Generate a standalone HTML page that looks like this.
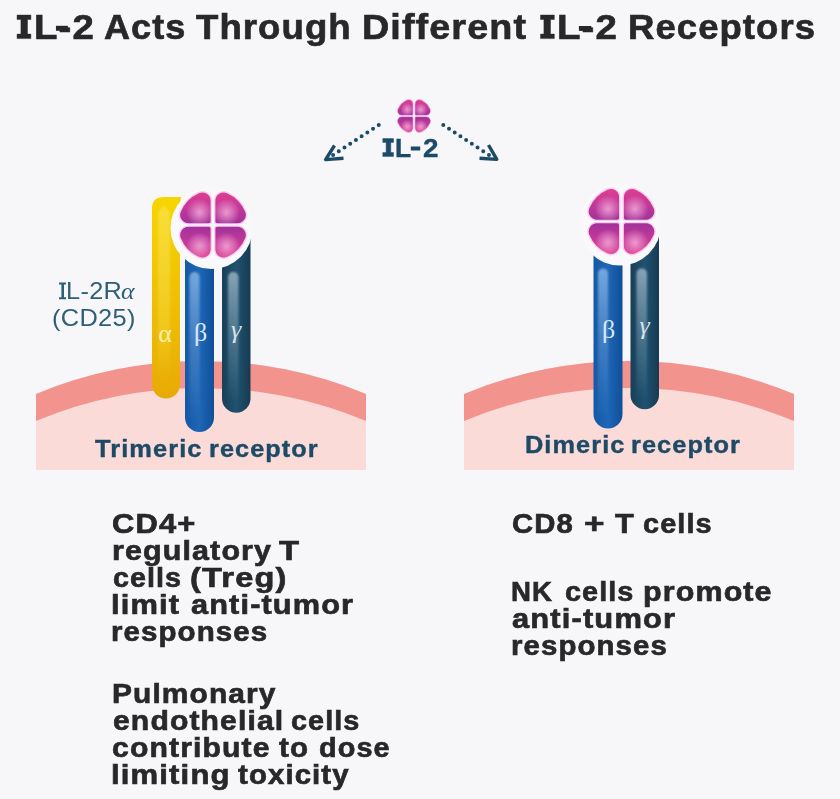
<!DOCTYPE html>
<html><head><meta charset="utf-8"><style>
html,body{margin:0;padding:0;}
body{width:840px;height:799px;background:#f7f7fa;position:relative;overflow:hidden;font-family:"Liberation Sans",sans-serif;}
.t{position:absolute;white-space:nowrap;line-height:1;transform-origin:0 0;}
</style></head><body>
<svg width="840" height="799" viewBox="0 0 840 799" style="position:absolute;left:0;top:0">
<defs>
 <linearGradient id="lg" x1="0" y1="0" x2="0" y2="1"><stop offset="0" stop-color="#df3f90"/><stop offset="0.5" stop-color="#c33898"/><stop offset="1" stop-color="#a0329a"/></linearGradient>
 <radialGradient id="rgT" cx="0.63" cy="0.64" r="0.42"><stop offset="0" stop-color="#f3a8d8" stop-opacity="0.85"/><stop offset="1" stop-color="#f6b4de" stop-opacity="0"/></radialGradient>
 <radialGradient id="rgB" cx="0.63" cy="0.38" r="0.42"><stop offset="0" stop-color="#f3a8d8" stop-opacity="0.85"/><stop offset="1" stop-color="#f6b4de" stop-opacity="0"/></radialGradient>
 <linearGradient id="ga" x1="0" y1="0" x2="0" y2="1"><stop offset="0" stop-color="#f6d600"/><stop offset="1" stop-color="#e8aa06"/></linearGradient>
 <linearGradient id="gb" x1="0" y1="0" x2="1" y2="0"><stop offset="0" stop-color="#1458a6"/><stop offset="0.5" stop-color="#1e66b6"/><stop offset="1" stop-color="#0f4f98"/></linearGradient>
 <linearGradient id="gg" x1="0" y1="0" x2="1" y2="0"><stop offset="0" stop-color="#183f57"/><stop offset="0.5" stop-color="#205270"/><stop offset="1" stop-color="#163b52"/></linearGradient>
 <filter id="blur2" x="-50%" y="-10%" width="200%" height="120%"><feGaussianBlur stdDeviation="1.0"/></filter>
 <linearGradient id="ha" x1="0" y1="0" x2="0" y2="1"><stop offset="0" stop-color="#fbe45a" stop-opacity="0.6"/><stop offset="0.7" stop-color="#fbe45a" stop-opacity="0.3"/><stop offset="1" stop-color="#fbe45a" stop-opacity="0"/></linearGradient>
 <linearGradient id="hb" x1="0" y1="0" x2="0" y2="1"><stop offset="0" stop-color="#86b4e4" stop-opacity="0.85"/><stop offset="0.6" stop-color="#5d93d0" stop-opacity="0.45"/><stop offset="1" stop-color="#5d93d0" stop-opacity="0"/></linearGradient>
 <linearGradient id="hg" x1="0" y1="0" x2="0" y2="1"><stop offset="0" stop-color="#9ab3c2" stop-opacity="0.85"/><stop offset="0.6" stop-color="#6f93a8" stop-opacity="0.45"/><stop offset="1" stop-color="#6f93a8" stop-opacity="0"/></linearGradient>
</defs>
<path d="M36,394 A429,429 0 0 1 366,394 L366,470 L36,470 Z" fill="#fadbd8"/><path d="M36,394 A429,429 0 0 1 366,394 L366,421 A429,429 0 0 0 36,421 Z" fill="#f3938d"/>
<path d="M464,394 A429,429 0 0 1 794,394 L794,470 L464,470 Z" fill="#fadbd8"/><path d="M464,394 A429,429 0 0 1 794,394 L794,421 A429,429 0 0 0 464,421 Z" fill="#f3938d"/>
<g>
<path d="M152,208 Q152,197 164,197 L181,197 L180,205 L180,384.5 A14,14 0 0 1 152,384.5 Z" fill="url(#ga)"/>
<path d="M158,212 L164,205 L170,212 L170,380 L158,380 Z" fill="url(#ha)" filter="url(#blur2)"/>
<path d="M185,236 L214,236 L214,417.5 A14.5,14.5 0 0 1 185,417.5 Z" fill="url(#gb)"/>
<path d="M222,236 L250.5,236 L250.5,398.5 A14.25,14.25 0 0 1 222,398.5 Z" fill="url(#gg)"/>
<rect x="189.5" y="272" width="10" height="150" rx="5" fill="url(#hb)" filter="url(#blur2)"/>
<rect x="228" y="272" width="10.5" height="130" rx="5" fill="url(#hg)" filter="url(#blur2)"/>
</g>
<circle cx="211.5" cy="228" r="41" fill="#f9f9fc"/>
<g transform="translate(213,225) scale(1,1)"><path d="M-1.70,-24.24 L-1.70,-3.60 A2.5,2.5 0 0 1 -4.20,-1.10 L-24.50,-1.10 A9.0,9.0 0 0 1 -32.82,-13.53 A35.5,35.5 0 0 1 -14.33,-32.48 A9.0,9.0 0 0 1 -1.70,-24.24 Z" fill="url(#lg)" stroke="#f9cdee" stroke-width="1.4"/><path d="M-1.70,-24.24 L-1.70,-3.60 A2.5,2.5 0 0 1 -4.20,-1.10 L-24.50,-1.10 A9.0,9.0 0 0 1 -32.82,-13.53 A35.5,35.5 0 0 1 -14.33,-32.48 A9.0,9.0 0 0 1 -1.70,-24.24 Z" fill="url(#rgT)"/></g>
<g transform="translate(213,225) scale(-1,1)"><path d="M-1.70,-24.24 L-1.70,-3.60 A2.5,2.5 0 0 1 -4.20,-1.10 L-24.50,-1.10 A9.0,9.0 0 0 1 -32.82,-13.53 A35.5,35.5 0 0 1 -14.33,-32.48 A9.0,9.0 0 0 1 -1.70,-24.24 Z" fill="url(#lg)" stroke="#f9cdee" stroke-width="1.4"/><path d="M-1.70,-24.24 L-1.70,-3.60 A2.5,2.5 0 0 1 -4.20,-1.10 L-24.50,-1.10 A9.0,9.0 0 0 1 -32.82,-13.53 A35.5,35.5 0 0 1 -14.33,-32.48 A9.0,9.0 0 0 1 -1.70,-24.24 Z" fill="url(#rgT)"/></g>
<g transform="translate(213,225) scale(1,-1)"><path d="M-1.70,-24.24 L-1.70,-3.60 A2.5,2.5 0 0 1 -4.20,-1.10 L-24.50,-1.10 A9.0,9.0 0 0 1 -32.82,-13.53 A35.5,35.5 0 0 1 -14.33,-32.48 A9.0,9.0 0 0 1 -1.70,-24.24 Z" fill="url(#lg)" stroke="#f9cdee" stroke-width="1.4"/><path d="M-1.70,-24.24 L-1.70,-3.60 A2.5,2.5 0 0 1 -4.20,-1.10 L-24.50,-1.10 A9.0,9.0 0 0 1 -32.82,-13.53 A35.5,35.5 0 0 1 -14.33,-32.48 A9.0,9.0 0 0 1 -1.70,-24.24 Z" fill="url(#rgB)"/></g>
<g transform="translate(213,225) scale(-1,-1)"><path d="M-1.70,-24.24 L-1.70,-3.60 A2.5,2.5 0 0 1 -4.20,-1.10 L-24.50,-1.10 A9.0,9.0 0 0 1 -32.82,-13.53 A35.5,35.5 0 0 1 -14.33,-32.48 A9.0,9.0 0 0 1 -1.70,-24.24 Z" fill="url(#lg)" stroke="#f9cdee" stroke-width="1.4"/><path d="M-1.70,-24.24 L-1.70,-3.60 A2.5,2.5 0 0 1 -4.20,-1.10 L-24.50,-1.10 A9.0,9.0 0 0 1 -32.82,-13.53 A35.5,35.5 0 0 1 -14.33,-32.48 A9.0,9.0 0 0 1 -1.70,-24.24 Z" fill="url(#rgB)"/></g>
<g>
<path d="M593.5,232.5 L622.5,232.5 L622.5,414.0 A14.5,14.5 0 0 1 593.5,414.0 Z" fill="url(#gb)"/>
<path d="M630.5,232.5 L659.0,232.5 L659.0,395.0 A14.25,14.25 0 0 1 630.5,395.0 Z" fill="url(#gg)"/>
<rect x="598.0" y="268.5" width="10" height="150" rx="5" fill="url(#hb)" filter="url(#blur2)"/>
<rect x="636.5" y="268.5" width="10.5" height="130" rx="5" fill="url(#hg)" filter="url(#blur2)"/>
</g>
<circle cx="620.0" cy="224.5" r="41" fill="#f9f9fc"/>
<g transform="translate(621.5,221.5) scale(1,1)"><path d="M-1.70,-24.24 L-1.70,-3.60 A2.5,2.5 0 0 1 -4.20,-1.10 L-24.50,-1.10 A9.0,9.0 0 0 1 -32.82,-13.53 A35.5,35.5 0 0 1 -14.33,-32.48 A9.0,9.0 0 0 1 -1.70,-24.24 Z" fill="url(#lg)" stroke="#f9cdee" stroke-width="1.4"/><path d="M-1.70,-24.24 L-1.70,-3.60 A2.5,2.5 0 0 1 -4.20,-1.10 L-24.50,-1.10 A9.0,9.0 0 0 1 -32.82,-13.53 A35.5,35.5 0 0 1 -14.33,-32.48 A9.0,9.0 0 0 1 -1.70,-24.24 Z" fill="url(#rgT)"/></g>
<g transform="translate(621.5,221.5) scale(-1,1)"><path d="M-1.70,-24.24 L-1.70,-3.60 A2.5,2.5 0 0 1 -4.20,-1.10 L-24.50,-1.10 A9.0,9.0 0 0 1 -32.82,-13.53 A35.5,35.5 0 0 1 -14.33,-32.48 A9.0,9.0 0 0 1 -1.70,-24.24 Z" fill="url(#lg)" stroke="#f9cdee" stroke-width="1.4"/><path d="M-1.70,-24.24 L-1.70,-3.60 A2.5,2.5 0 0 1 -4.20,-1.10 L-24.50,-1.10 A9.0,9.0 0 0 1 -32.82,-13.53 A35.5,35.5 0 0 1 -14.33,-32.48 A9.0,9.0 0 0 1 -1.70,-24.24 Z" fill="url(#rgT)"/></g>
<g transform="translate(621.5,221.5) scale(1,-1)"><path d="M-1.70,-24.24 L-1.70,-3.60 A2.5,2.5 0 0 1 -4.20,-1.10 L-24.50,-1.10 A9.0,9.0 0 0 1 -32.82,-13.53 A35.5,35.5 0 0 1 -14.33,-32.48 A9.0,9.0 0 0 1 -1.70,-24.24 Z" fill="url(#lg)" stroke="#f9cdee" stroke-width="1.4"/><path d="M-1.70,-24.24 L-1.70,-3.60 A2.5,2.5 0 0 1 -4.20,-1.10 L-24.50,-1.10 A9.0,9.0 0 0 1 -32.82,-13.53 A35.5,35.5 0 0 1 -14.33,-32.48 A9.0,9.0 0 0 1 -1.70,-24.24 Z" fill="url(#rgB)"/></g>
<g transform="translate(621.5,221.5) scale(-1,-1)"><path d="M-1.70,-24.24 L-1.70,-3.60 A2.5,2.5 0 0 1 -4.20,-1.10 L-24.50,-1.10 A9.0,9.0 0 0 1 -32.82,-13.53 A35.5,35.5 0 0 1 -14.33,-32.48 A9.0,9.0 0 0 1 -1.70,-24.24 Z" fill="url(#lg)" stroke="#f9cdee" stroke-width="1.4"/><path d="M-1.70,-24.24 L-1.70,-3.60 A2.5,2.5 0 0 1 -4.20,-1.10 L-24.50,-1.10 A9.0,9.0 0 0 1 -32.82,-13.53 A35.5,35.5 0 0 1 -14.33,-32.48 A9.0,9.0 0 0 1 -1.70,-24.24 Z" fill="url(#rgB)"/></g>
<g transform="translate(414,116) scale(0.5) translate(-213,-225)"><g transform="translate(213,225) scale(1,1)"><path d="M-1.70,-24.24 L-1.70,-3.60 A2.5,2.5 0 0 1 -4.20,-1.10 L-24.50,-1.10 A9.0,9.0 0 0 1 -32.82,-13.53 A35.5,35.5 0 0 1 -14.33,-32.48 A9.0,9.0 0 0 1 -1.70,-24.24 Z" fill="url(#lg)" stroke="#f9cdee" stroke-width="1.4"/><path d="M-1.70,-24.24 L-1.70,-3.60 A2.5,2.5 0 0 1 -4.20,-1.10 L-24.50,-1.10 A9.0,9.0 0 0 1 -32.82,-13.53 A35.5,35.5 0 0 1 -14.33,-32.48 A9.0,9.0 0 0 1 -1.70,-24.24 Z" fill="url(#rgT)"/></g>
<g transform="translate(213,225) scale(-1,1)"><path d="M-1.70,-24.24 L-1.70,-3.60 A2.5,2.5 0 0 1 -4.20,-1.10 L-24.50,-1.10 A9.0,9.0 0 0 1 -32.82,-13.53 A35.5,35.5 0 0 1 -14.33,-32.48 A9.0,9.0 0 0 1 -1.70,-24.24 Z" fill="url(#lg)" stroke="#f9cdee" stroke-width="1.4"/><path d="M-1.70,-24.24 L-1.70,-3.60 A2.5,2.5 0 0 1 -4.20,-1.10 L-24.50,-1.10 A9.0,9.0 0 0 1 -32.82,-13.53 A35.5,35.5 0 0 1 -14.33,-32.48 A9.0,9.0 0 0 1 -1.70,-24.24 Z" fill="url(#rgT)"/></g>
<g transform="translate(213,225) scale(1,-1)"><path d="M-1.70,-24.24 L-1.70,-3.60 A2.5,2.5 0 0 1 -4.20,-1.10 L-24.50,-1.10 A9.0,9.0 0 0 1 -32.82,-13.53 A35.5,35.5 0 0 1 -14.33,-32.48 A9.0,9.0 0 0 1 -1.70,-24.24 Z" fill="url(#lg)" stroke="#f9cdee" stroke-width="1.4"/><path d="M-1.70,-24.24 L-1.70,-3.60 A2.5,2.5 0 0 1 -4.20,-1.10 L-24.50,-1.10 A9.0,9.0 0 0 1 -32.82,-13.53 A35.5,35.5 0 0 1 -14.33,-32.48 A9.0,9.0 0 0 1 -1.70,-24.24 Z" fill="url(#rgB)"/></g>
<g transform="translate(213,225) scale(-1,-1)"><path d="M-1.70,-24.24 L-1.70,-3.60 A2.5,2.5 0 0 1 -4.20,-1.10 L-24.50,-1.10 A9.0,9.0 0 0 1 -32.82,-13.53 A35.5,35.5 0 0 1 -14.33,-32.48 A9.0,9.0 0 0 1 -1.70,-24.24 Z" fill="url(#lg)" stroke="#f9cdee" stroke-width="1.4"/><path d="M-1.70,-24.24 L-1.70,-3.60 A2.5,2.5 0 0 1 -4.20,-1.10 L-24.50,-1.10 A9.0,9.0 0 0 1 -32.82,-13.53 A35.5,35.5 0 0 1 -14.33,-32.48 A9.0,9.0 0 0 1 -1.70,-24.24 Z" fill="url(#rgB)"/></g></g>
<line x1="378.75" y1="125" x2="332.6" y2="155.3" stroke="#1d4b67" stroke-width="4" stroke-linecap="round" stroke-dasharray="0 6.83"/><polyline points="334.5,145.5 325.6,159.6 343.5,158.3" fill="none" stroke="#1d4b67" stroke-width="3.4" stroke-linejoin="round" stroke-linecap="butt"/>
<line x1="443.3" y1="125" x2="489.4" y2="155.3" stroke="#1d4b67" stroke-width="4" stroke-linecap="round" stroke-dasharray="0 6.83"/><polyline points="488.5,145 496.8,159.4 479.5,158.3" fill="none" stroke="#1d4b67" stroke-width="3.4" stroke-linejoin="round" stroke-linecap="butt"/>
<path d="M17.06,15.06 H30.9 V19.560000000000002 H27.5 V34.1 H30.9 V38.6 H17.06 V34.1 H20.9 V19.560000000000002 H17.06 Z" fill="#28282a" stroke="#28282a" stroke-width="0.45"/><path d="M540.5,15.06 H554.34 V19.560000000000002 H550.5 V34.1 H554.34 V38.6 H540.5 V34.1 H543.9 V19.560000000000002 H540.5 Z" fill="#28282a" stroke="#28282a" stroke-width="0.45"/><path d="M382.8,138.6 H393.5 V142.4 H390.8 V152.6 H393.5 V156.4 H382.8 V152.6 H386.1 V142.4 H382.8 Z" fill="#1d4b67" stroke="#1d4b67" stroke-width="0.45"/><path d="M59.0,282.5 H66.0 V284.5 H64.0 V297.2 H66.0 V299.2 H59.0 V297.2 H61.4 V284.5 H59.0 Z" fill="#2f5f78" stroke="#2f5f78" stroke-width="0"/>
<rect x="55.95" y="25.8" width="11.95" height="5.00" fill="#28282a"/><rect x="578.9" y="26.0" width="12.40" height="4.90" fill="#28282a"/><rect x="410.8" y="146.5" width="9.40" height="4.00" fill="#1d4b67"/>
<text x="165" y="342" font-family="Liberation Serif" font-size="26" fill="#fff1a8" text-anchor="middle">α</text>
<text x="200.5" y="341" font-family="Liberation Serif" font-size="26" fill="#dce8f6" text-anchor="middle">β</text>
<text x="236" y="337.5" font-style="italic" font-family="Liberation Serif" font-size="26" fill="#d6e2ea" text-anchor="middle">γ</text>
<text x="608.5" y="337.5" font-family="Liberation Serif" font-size="26" fill="#dce8f6" text-anchor="middle">β</text>
<text x="644.5" y="334" font-style="italic" font-family="Liberation Serif" font-size="26" fill="#d6e2ea" text-anchor="middle">γ</text>
</svg>
<div class="t" style="left:33.86px;top:9.75px;font-size:34.3px;font-weight:700;letter-spacing:1.0px;font-family:'Liberation Sans';color:#28282a;transform:scaleX(1.1180);-webkit-text-stroke:0.65px #28282a">L-2</div>
<div class="t" style="left:103.95px;top:9.75px;font-size:34.3px;font-weight:700;letter-spacing:1.0px;font-family:'Liberation Sans';color:#28282a;transform:scaleX(1.0500);-webkit-text-stroke:0.65px #28282a">Acts</div>
<div class="t" style="left:196.25px;top:9.75px;font-size:34.3px;font-weight:700;letter-spacing:1.0px;font-family:'Liberation Sans';color:#28282a;transform:scaleX(1.0664);-webkit-text-stroke:0.65px #28282a">Through</div>
<div class="t" style="left:362.30px;top:9.75px;font-size:34.3px;font-weight:700;letter-spacing:1.0px;font-family:'Liberation Sans';color:#28282a;transform:scaleX(1.1003);-webkit-text-stroke:0.65px #28282a">Different</div>
<div class="t" style="left:557.26px;top:9.75px;font-size:34.3px;font-weight:700;letter-spacing:1.0px;font-family:'Liberation Sans';color:#28282a;transform:scaleX(1.1200);-webkit-text-stroke:0.65px #28282a">L-2</div>
<div class="t" style="left:627.87px;top:9.75px;font-size:34.3px;font-weight:700;letter-spacing:1.0px;font-family:'Liberation Sans';color:#28282a;transform:scaleX(1.0640);-webkit-text-stroke:0.65px #28282a">Receptors</div>
<div class="t" style="left:66.47px;top:279.37px;font-size:23.8px;font-weight:400;letter-spacing:0.3px;font-family:'Liberation Sans';color:#2f5f78;transform:scaleX(1.0633);-webkit-text-stroke:0px #2f5f78">L-2R</div>
<div class="t" style="left:121.22px;top:279.40px;font-size:24px;font-weight:400;letter-spacing:0.3px;font-family:'Liberation Serif';color:#2f5f78;transform:scaleX(1.0750);-webkit-text-stroke:0px #2f5f78"><i>α</i></div>
<div class="t" style="left:52.17px;top:306.47px;font-size:23.8px;font-weight:400;letter-spacing:0.3px;font-family:'Liberation Sans';color:#2f5f78;transform:scaleX(1.0667);-webkit-text-stroke:0px #2f5f78">(CD25)</div>
<div class="t" style="left:395.07px;top:134.70px;font-size:26.0px;font-weight:700;letter-spacing:1.0px;font-family:'Liberation Sans';color:#1d4b67;transform:scaleX(1.0154);-webkit-text-stroke:0.4px #1d4b67">L</div>
<div class="t" style="left:422.83px;top:134.70px;font-size:26.0px;font-weight:700;letter-spacing:1.0px;font-family:'Liberation Sans';color:#1d4b67;transform:scaleX(1.0692);-webkit-text-stroke:0.4px #1d4b67">2</div>
<div class="t" style="left:95.30px;top:437.54px;font-size:23.6px;font-weight:700;letter-spacing:1.0px;font-family:'Liberation Sans';color:#1d4b67;transform:scaleX(1.0776);-webkit-text-stroke:0.4px #1d4b67">Trimeric</div>
<div class="t" style="left:208.86px;top:437.54px;font-size:23.6px;font-weight:700;letter-spacing:1.0px;font-family:'Liberation Sans';color:#1d4b67;transform:scaleX(1.0707);-webkit-text-stroke:0.4px #1d4b67">receptor</div>
<div class="t" style="left:525.05px;top:434.24px;font-size:23.6px;font-weight:700;letter-spacing:1.0px;font-family:'Liberation Sans';color:#1d4b67;transform:scaleX(1.0733);-webkit-text-stroke:0.4px #1d4b67">Dimeric</div>
<div class="t" style="left:631.45px;top:434.24px;font-size:23.6px;font-weight:700;letter-spacing:1.0px;font-family:'Liberation Sans';color:#1d4b67;transform:scaleX(1.0747);-webkit-text-stroke:0.4px #1d4b67">receptor</div>
<div class="t" style="left:112.27px;top:510.39px;font-size:27.3px;font-weight:700;letter-spacing:1.0px;font-family:'Liberation Sans';color:#28282a;transform:scaleX(1.1317);-webkit-text-stroke:0.65px #28282a">CD4+</div>
<div class="t" style="left:111.52px;top:537.19px;font-size:27.3px;font-weight:700;letter-spacing:1.0px;font-family:'Liberation Sans';color:#28282a;transform:scaleX(1.1161);-webkit-text-stroke:0.65px #28282a">regulatory</div>
<div class="t" style="left:278.75px;top:537.19px;font-size:27.3px;font-weight:700;letter-spacing:1.0px;font-family:'Liberation Sans';color:#28282a;transform:scaleX(1.2031);-webkit-text-stroke:0.65px #28282a">T</div>
<div class="t" style="left:112.70px;top:563.99px;font-size:27.3px;font-weight:700;letter-spacing:1.0px;font-family:'Liberation Sans';color:#28282a;transform:scaleX(1.0516);-webkit-text-stroke:0.65px #28282a">cells</div>
<div class="t" style="left:190.06px;top:563.99px;font-size:27.3px;font-weight:700;letter-spacing:1.0px;font-family:'Liberation Sans';color:#28282a;transform:scaleX(1.1930);-webkit-text-stroke:0.65px #28282a">(Treg)</div>
<div class="t" style="left:111.44px;top:590.89px;font-size:27.3px;font-weight:700;letter-spacing:1.0px;font-family:'Liberation Sans';color:#28282a;transform:scaleX(1.1310);-webkit-text-stroke:0.65px #28282a">limit</div>
<div class="t" style="left:190.57px;top:590.89px;font-size:27.3px;font-weight:700;letter-spacing:1.0px;font-family:'Liberation Sans';color:#28282a;transform:scaleX(1.1259);-webkit-text-stroke:0.65px #28282a">anti-tumor</div>
<div class="t" style="left:111.24px;top:617.99px;font-size:27.3px;font-weight:700;letter-spacing:1.0px;font-family:'Liberation Sans';color:#28282a;transform:scaleX(1.0801);-webkit-text-stroke:0.65px #28282a">responses</div>
<div class="t" style="left:111.71px;top:680.39px;font-size:27.3px;font-weight:700;letter-spacing:1.0px;font-family:'Liberation Sans';color:#28282a;transform:scaleX(1.0959);-webkit-text-stroke:0.65px #28282a">Pulmonary</div>
<div class="t" style="left:112.50px;top:707.19px;font-size:27.3px;font-weight:700;letter-spacing:1.0px;font-family:'Liberation Sans';color:#28282a;transform:scaleX(1.1046);-webkit-text-stroke:0.65px #28282a">endothelial</div>
<div class="t" style="left:290.84px;top:707.19px;font-size:27.3px;font-weight:700;letter-spacing:1.0px;font-family:'Liberation Sans';color:#28282a;transform:scaleX(1.0571);-webkit-text-stroke:0.65px #28282a">cells</div>
<div class="t" style="left:112.49px;top:733.99px;font-size:27.3px;font-weight:700;letter-spacing:1.0px;font-family:'Liberation Sans';color:#28282a;transform:scaleX(1.1057);-webkit-text-stroke:0.65px #28282a">contribute</div>
<div class="t" style="left:279.40px;top:733.99px;font-size:27.3px;font-weight:700;letter-spacing:1.0px;font-family:'Liberation Sans';color:#28282a;transform:scaleX(1.0808);-webkit-text-stroke:0.65px #28282a">to</div>
<div class="t" style="left:318.94px;top:733.99px;font-size:27.3px;font-weight:700;letter-spacing:1.0px;font-family:'Liberation Sans';color:#28282a;transform:scaleX(1.0577);-webkit-text-stroke:0.65px #28282a">dose</div>
<div class="t" style="left:111.32px;top:760.69px;font-size:27.3px;font-weight:700;letter-spacing:1.0px;font-family:'Liberation Sans';color:#28282a;transform:scaleX(1.1390);-webkit-text-stroke:0.65px #28282a">limiting</div>
<div class="t" style="left:238.00px;top:760.69px;font-size:27.3px;font-weight:700;letter-spacing:1.0px;font-family:'Liberation Sans';color:#28282a;transform:scaleX(1.0784);-webkit-text-stroke:0.65px #28282a">toxicity</div>
<div class="t" style="left:511.93px;top:510.30px;font-size:27.3px;font-weight:700;letter-spacing:1.0px;font-family:'Liberation Sans';color:#28282a;transform:scaleX(1.0727);-webkit-text-stroke:0.65px #28282a">CD8</div>
<div class="t" style="left:583.71px;top:510.30px;font-size:27.3px;font-weight:700;letter-spacing:1.0px;font-family:'Liberation Sans';color:#28282a;transform:scaleX(1.2857);-webkit-text-stroke:0.65px #28282a">+</div>
<div class="t" style="left:615.00px;top:510.30px;font-size:27.3px;font-weight:700;letter-spacing:1.0px;font-family:'Liberation Sans';color:#28282a;transform:scaleX(1.1250);-webkit-text-stroke:0.65px #28282a">T</div>
<div class="t" style="left:642.69px;top:510.30px;font-size:27.3px;font-weight:700;letter-spacing:1.0px;font-family:'Liberation Sans';color:#28282a;transform:scaleX(1.0595);-webkit-text-stroke:0.65px #28282a">cells</div>
<div class="t" style="left:511.28px;top:577.69px;font-size:27.3px;font-weight:700;letter-spacing:1.0px;font-family:'Liberation Sans';color:#28282a;transform:scaleX(1.0105);-webkit-text-stroke:0.65px #28282a">NK</div>
<div class="t" style="left:564.64px;top:577.69px;font-size:27.3px;font-weight:700;letter-spacing:1.0px;font-family:'Liberation Sans';color:#28282a;transform:scaleX(1.0571);-webkit-text-stroke:0.65px #28282a">cells</div>
<div class="t" style="left:642.77px;top:577.69px;font-size:27.3px;font-weight:700;letter-spacing:1.0px;font-family:'Liberation Sans';color:#28282a;transform:scaleX(1.1161);-webkit-text-stroke:0.65px #28282a">promote</div>
<div class="t" style="left:511.87px;top:604.69px;font-size:27.3px;font-weight:700;letter-spacing:1.0px;font-family:'Liberation Sans';color:#28282a;transform:scaleX(1.1329);-webkit-text-stroke:0.65px #28282a">anti-tumor</div>
<div class="t" style="left:510.84px;top:631.69px;font-size:27.3px;font-weight:700;letter-spacing:1.0px;font-family:'Liberation Sans';color:#28282a;transform:scaleX(1.0780);-webkit-text-stroke:0.65px #28282a">responses</div>
</body></html>
